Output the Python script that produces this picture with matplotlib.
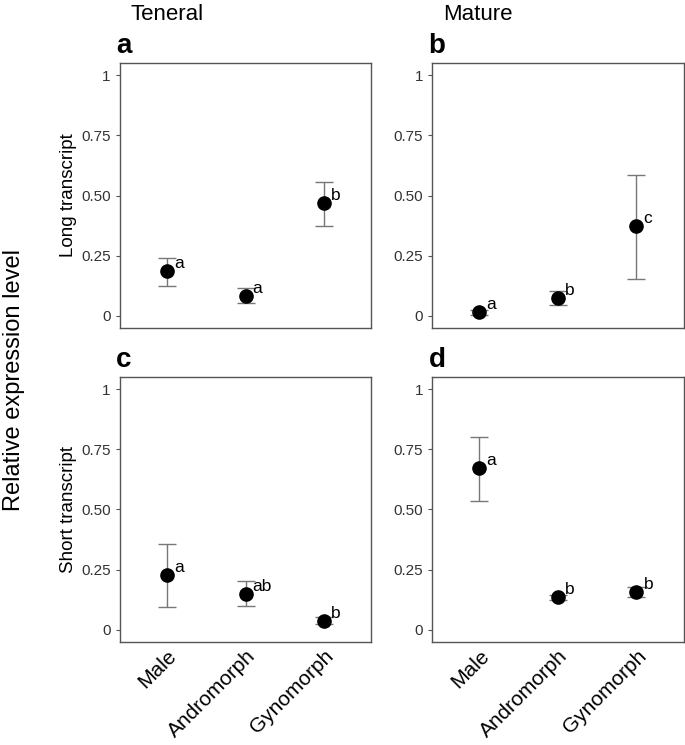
import matplotlib
matplotlib.use('Agg')

import matplotlib.pyplot as plt
from matplotlib.transforms import ScaledTranslation

plt.rcParams['font.family'] = ['Liberation Sans', 'DejaVu Sans']

# Data
morphs = ['Male', 'Andromorph', 'Gynomorph']

long_teneral = [0.185, 0.085, 0.467]
long_teneral_lo = [0.125, 0.055, 0.372]
long_teneral_hi = [0.24, 0.115, 0.555]
long_teneral_grp = ['a', 'a', 'b']

long_mature = [0.016, 0.076, 0.372]
long_mature_lo = [0.006, 0.046, 0.155]
long_mature_hi = [0.026, 0.104, 0.585]
long_mature_grp = ['a', 'b', 'c']

short_teneral = [0.23, 0.15, 0.039]
short_teneral_lo = [0.097, 0.099, 0.023]
short_teneral_hi = [0.358, 0.203, 0.055]
short_teneral_grp = ['a', 'ab', 'b']

short_mature = [0.671, 0.136, 0.157]
short_mature_lo = [0.536, 0.126, 0.136]
short_mature_hi = [0.8, 0.146, 0.178]
short_mature_grp = ['a', 'b', 'b']

panels = [
    ('a', long_teneral, long_teneral_lo, long_teneral_hi, long_teneral_grp),
    ('b', long_mature, long_mature_lo, long_mature_hi, long_mature_grp),
    ('c', short_teneral, short_teneral_lo, short_teneral_hi, short_teneral_grp),
    ('d', short_mature, short_mature_lo, short_mature_hi, short_mature_grp),
]

fig = plt.figure(figsize=(6.85, 7.45), dpi=100)

lefts = [0.175, 0.631]
bottoms = [0.5597, 0.1383]
w, h = 0.367, 0.3557
grey = '#555555'

for i, (tag, mean, lo, hi, grp) in enumerate(panels):
    row, col = divmod(i, 2)
    ax = fig.add_axes([lefts[col], bottoms[row], w, h])
    x = [1, 2, 3]
    yerr = [[m - l for m, l in zip(mean, lo)], [u - m for m, u in zip(mean, hi)]]
    ax.errorbar(x, mean, yerr=yerr, fmt='none', ecolor='#777777', elinewidth=1,
                capsize=6.5, capthick=1, zorder=2)
    ax.plot(x, mean, 'o', color='black', markersize=9.5, zorder=3)
    for xi, m, g in zip(x, mean, grp):
        ax.text(xi + 0.09, m + 0.0, g, fontsize=12.5, ha='left', va='bottom')
    ax.set_xlim(0.4, 3.6)
    ax.set_ylim(-0.05, 1.05)
    ax.set_yticks([0, 0.25, 0.5, 0.75, 1])
    ax.set_yticklabels(['0', '0.25', '0.50', '0.75', '1'], fontsize=11, color='#333333')
    ax.set_xticks(x)
    if row == 1:
        ax.set_xticklabels(morphs, rotation=45, ha='right', rotation_mode='anchor',
                           fontsize=15)
        shift = ScaledTranslation(8 / 72, 0, fig.dpi_scale_trans)
        for lab in ax.get_xticklabels():
            lab.set_transform(lab.get_transform() + shift)
    else:
        ax.set_xticklabels([])
    ax.tick_params(axis='y', color=grey, length=3, width=0.8)
    ax.tick_params(axis='x', length=0, pad=3)
    for s in ax.spines.values():
        s.set_color(grey)
        s.set_linewidth(1)
    ax.text(-0.015, 1.015, tag, transform=ax.transAxes, fontsize=20,
            fontweight='bold', ha='left', va='bottom')

fig.text(0.244, 0.995, 'Teneral', fontsize=16, ha='center', va='top')
fig.text(0.698, 0.995, 'Mature', fontsize=16, ha='center', va='top')
fig.text(0.1, 0.738, 'Long transcript', fontsize=13.5, rotation=90, ha='center', va='center')
fig.text(0.1, 0.316, 'Short transcript', fontsize=13.5, rotation=90, ha='center', va='center')
fig.text(0.02, 0.49, 'Relative expression level', fontsize=17, rotation=90,
         ha='center', va='center')

fig.savefig('out.png', dpi=100)
